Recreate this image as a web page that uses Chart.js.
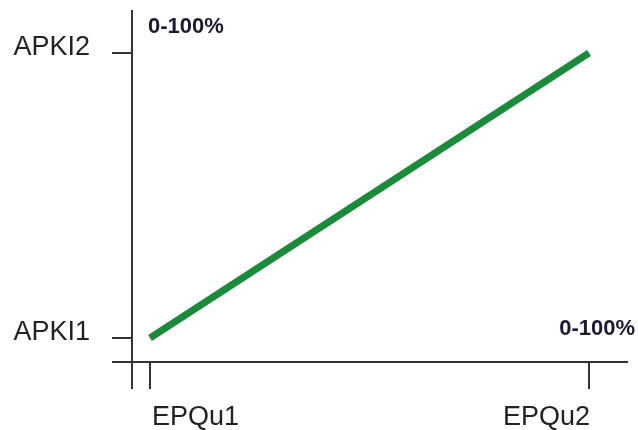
<!DOCTYPE html>
<html lang="en">
<head>
  <meta charset="UTF-8">
  <title>APKI vs EPQu</title>
  <script src="https://cdn.jsdelivr.net/npm/chart.js"></script>
  <style>
    body {
      margin: 0;
      background: #fff;
    }
    canvas {
      display: block;
    }
  </style>
</head>
<body>

<canvas id="trendChart" width="638" height="430"></canvas>

<script>
  // chart data
  const xTickLabels = ['EPQu1', 'EPQu2'];
  const yTickLabels = ['APKI1', 'APKI2'];
  const xValues = [1, 2];
  const yValues = [1, 2];
  const rangeNotes = ['0-100%', '0-100%'];   // [y axis, x axis]

  // axis lines, ticks and labels drawn around the plot area
  const sketchAxesPlugin = {
    id: 'sketchAxes',
    afterDraw: (chart) => {
      const { ctx, chartArea: area, scales: { x, y } } = chart;
      const axisX = area.left - 18;
      const axisY = area.bottom + 24;

      ctx.save();
      ctx.strokeStyle = '#333';
      ctx.lineWidth = 2;
      ctx.beginPath();
      // vertical axis
      ctx.moveTo(axisX, area.top - 43);
      ctx.lineTo(axisX, area.bottom + 51);
      // horizontal axis
      ctx.moveTo(area.left - 38, axisY);
      ctx.lineTo(area.right + 39, axisY);
      // y ticks
      yValues.forEach(v => {
        const py = Math.round(y.getPixelForValue(v));
        ctx.moveTo(axisX - 20, py);
        ctx.lineTo(axisX, py);
      });
      // x ticks
      xValues.forEach(v => {
        const px = Math.round(x.getPixelForValue(v));
        ctx.moveTo(px, axisY);
        ctx.lineTo(px, axisY + 27);
      });
      ctx.stroke();

      // tick labels
      ctx.fillStyle = '#222';
      ctx.font = '27px "Liberation Sans", Arial, sans-serif';
      ctx.textBaseline = 'alphabetic';
      ctx.textAlign = 'right';
      yValues.forEach((v, i) => {
        ctx.fillText(yTickLabels[i], axisX - 42, y.getPixelForValue(v) + 2);
      });
      xValues.forEach((v, i) => {
        ctx.textAlign = i === 0 ? 'left' : 'right';
        const px = x.getPixelForValue(v);
        ctx.fillText(xTickLabels[i], i === 0 ? px + 2 : px + 1, axisY + 63);
      });

      // range notes
      ctx.fillStyle = '#1a1a33';
      ctx.font = 'bold 22px "Liberation Sans", Arial, sans-serif';
      ctx.textAlign = 'left';
      ctx.fillText(rangeNotes[0], area.left - 2, area.top - 20);
      ctx.textAlign = 'right';
      ctx.fillText(rangeNotes[1], area.right + 46, area.bottom - 3);
      ctx.restore();
    }
  };

  const ctx = document.getElementById('trendChart').getContext('2d');
  new Chart(ctx, {
    type: 'line',
    data: {
      datasets: [{
        data: xValues.map((v, i) => ({ x: v, y: yValues[i] })),
        borderColor: '#1b8a3a',
        borderWidth: 7,
        pointRadius: 0,
        tension: 0,
        clip: false
      }]
    },
    options: {
      responsive: false,
      animation: false,
      layout: {
        padding: { left: 150, right: 49, top: 53, bottom: 92 }
      },
      scales: {
        x: { type: 'linear', min: 1, max: 2, display: false },
        y: { type: 'linear', min: 1, max: 2, display: false }
      },
      plugins: {
        legend: { display: false },
        tooltip: { enabled: false }
      }
    },
    plugins: [sketchAxesPlugin]
  });
</script>

</body>
</html>
